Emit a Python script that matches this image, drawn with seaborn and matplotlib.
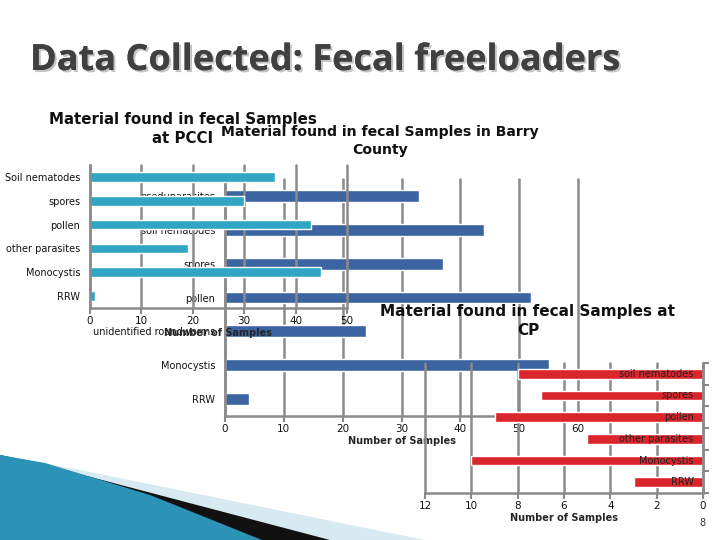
import numpy as np
import matplotlib
matplotlib.use('Agg')
import matplotlib.pyplot as plt
import matplotlib.patheffects as pe
from matplotlib.patches import Polygon
import seaborn as sns

# Data
pcci_cats = ['Soil nematodes', 'spores', 'pollen', 'other parasites', 'Monocystis', 'RRW']
pcci_vals = [36, 30, 43, 19, 45, 1]

barry_cats = ['pseduparasites', 'soil nematodes', 'spores', 'pollen',
              'unidentified roundworms', 'Monocystis', 'RRW']
barry_vals = [33, 44, 37, 52, 24, 55, 4]

cp_cats = ['soil nematodes', 'spores', 'pollen', 'other parasites', 'Monocystis', 'RRW']
cp_vals = [8, 7, 9, 5, 10, 3]

pcci_ticks = [0, 10, 20, 30, 40, 50]
barry_ticks = [0, 10, 20, 30, 40, 50, 60]
cp_ticks = [12, 10, 8, 6, 4, 2, 0]

sns.set_theme(style='white')
plt.rcParams['font.family'] = ['DejaVu Sans']

W, H = 720, 540
fig = plt.figure(figsize=(7.2, 5.4), dpi=100)
fig.patch.set_facecolor('white')

GRID = '#8a8a8a'


def px_axes(x0, y0, x1, y1):
    # axes from pixel box (top-left origin)
    return fig.add_axes([x0 / W, 1 - y1 / H, (x1 - x0) / W, (y1 - y0) / H])


def style_axes(ax, n, spines):
    ax.set_facecolor('none')
    ax.xaxis.grid(True, color=GRID, linewidth=1.8)
    ax.yaxis.grid(False)
    ax.set_axisbelow(True)
    for name, s in ax.spines.items():
        s.set_visible(name in spines)
        s.set_color(GRID)
        s.set_linewidth(1.8)
    ax.set_yticks(np.arange(-0.5, n, 1), minor=True)
    ax.tick_params(axis='y', which='minor', length=4, width=1.5, color=GRID)
    ax.tick_params(axis='y', which='major', length=0, pad=7, labelsize=7, labelcolor='#111111')
    ax.tick_params(axis='x', which='major', length=4, width=1.5, color=GRID,
                   labelsize=7.5, labelcolor='#111111', pad=2, bottom=True)
    ax.set_ylim(n - 0.5, -0.5)
    ax.set_ylabel('')
    ax.set_xlabel('Number of Samples', fontsize=7, fontweight='bold', labelpad=1)


def unclip_grid(ax):
    for gl in ax.get_xgridlines():
        gl.set_clip_on(False)


# slide decoration (bottom-left swoosh)
def fig_poly(pts, color):
    p = Polygon([(x / W, 1 - y / H) for x, y in pts], closed=True,
                transform=fig.transFigure, facecolor=color, edgecolor='none', zorder=0)
    fig.patches.append(p)


fig_poly([(0, 455), (80, 470), (425, 540), (0, 540)], '#d8eaf1')
fig_poly([(0, 455), (45, 465), (330, 540), (0, 540)], '#111111')
fig_poly([(0, 455), (45, 463), (150, 495), (262, 540), (0, 540)], '#2a93b6')

# slide title
fig.text(30 / W, 1 - 70 / H, 'Data Collected: Fecal freeloaders', fontsize=26,
         fontweight='bold', family='Open Sans', color='#404040', va='baseline',
         path_effects=[pe.withSimplePatchShadow(offset=(1.5, -1.5),
                                                shadow_rgbFace='#c4c4c4', alpha=1),
                       pe.Normal()])

# Barry County chart (drawn first, underneath)
ax2 = px_axes(225, 179, 578, 416)
sns.barplot(x=barry_vals, y=barry_cats, ax=ax2, color='#3b64a0', width=0.35,
            saturation=1, orient='h')
style_axes(ax2, len(barry_cats), ['left', 'bottom'])
ax2.set_xlim(0, 60)
ax2.set_xticks(barry_ticks)
unclip_grid(ax2)

# CP chart (reversed axis, categories on the right)
ax3 = px_axes(425, 363, 703, 493)
sns.barplot(x=cp_vals, y=cp_cats, ax=ax3, color='#da252c', width=0.45,
            saturation=1, orient='h')
style_axes(ax3, len(cp_cats), ['right', 'bottom'])
ax3.set_xlim(12, 0)
ax3.set_xticks(cp_ticks)
ax3.yaxis.tick_right()
ax3.set_yticklabels([])
unclip_grid(ax3)
for i, c in enumerate(cp_cats):
    ax3.text(0.4, i, c, ha='right', va='center', fontsize=7, color='#222222')

# PCCI chart (on top)
ax1 = px_axes(90, 165, 347, 308)
sns.barplot(x=pcci_vals, y=pcci_cats, ax=ax1, color='#31a5c4', width=0.4,
            saturation=1, orient='h')
style_axes(ax1, len(pcci_cats), ['left', 'bottom'])
ax1.set_xlim(0, 50)
ax1.set_xticks(pcci_ticks)
unclip_grid(ax1)

# chart titles
title_kw = dict(ha='center', va='center', fontweight='bold',
                linespacing=1.3, color='#111111')
fig.text(183 / W, 1 - 129 / H, 'Material found in fecal Samples\nat PCCI',
         fontsize=10.8, **title_kw)
fig.text(380 / W, 1 - 141 / H, 'Material found in fecal Samples in Barry\nCounty',
         fontsize=10.1, linespacing=1.4, **{k: v for k, v in title_kw.items() if k != 'linespacing'})
fig.text(528 / W, 1 - 321 / H, 'Material found in fecal Samples at\nCP',
         fontsize=11, **title_kw)

# page number
fig.text(702 / W, 1 - 523 / H, '8', ha='center', va='center', fontsize=7, color='#333333')

fig.savefig('out.png', dpi=100)
